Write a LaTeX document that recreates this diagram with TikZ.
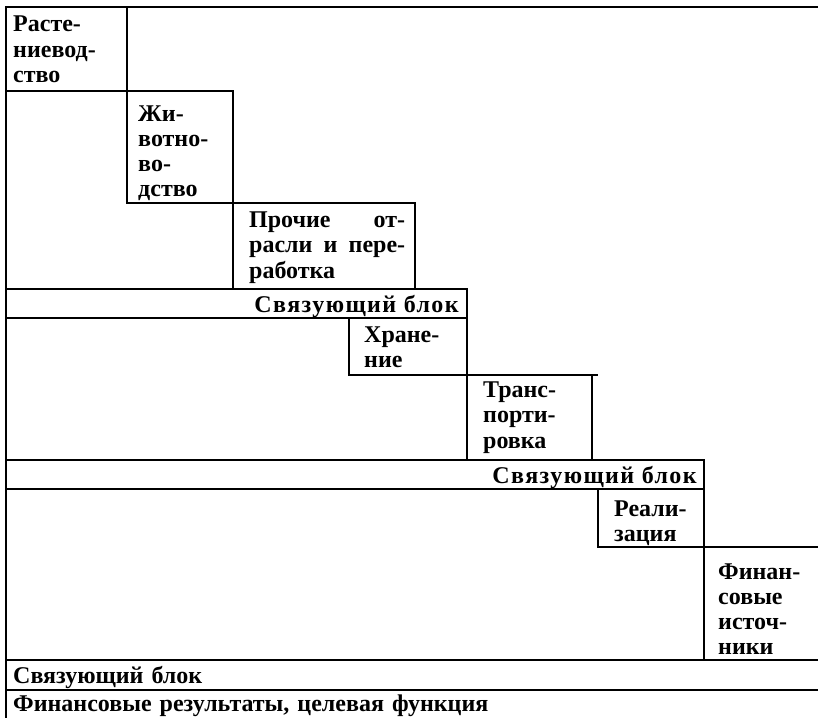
\documentclass[tikz,border=0pt]{standalone}
\usepackage{fontspec}
\setmainfont{Liberation Serif}[BoldFont={Liberation Serif Bold}]
\begin{document}
\begin{tikzpicture}[x=1pt,y=-1pt,
  rule/.style={line width=1.8pt, line cap=rect},
  cell/.style={anchor=base west, inner sep=0pt, align=left,
    font=\fontsize{24}{25.5}\selectfont\bfseries},
  tightcell/.style={cell, font=\fontsize{24}{25}\selectfont\bfseries},
  rcell/.style={anchor=base east, inner sep=0pt,
    font=\fontsize{24}{25}\selectfont\bfseries\addfontfeatures{LetterSpace=6}}]
\useasboundingbox (0,0) rectangle (818,717);
% frame
\draw[rule] (818,7) -- (6,7) -- (6,717);
% A
\draw[rule] (127,7) -- (127,203);
\draw[rule] (6,91) -- (233,91);
% B / C
\draw[rule] (233,91) -- (233,289);
\draw[rule] (127,203) -- (415,203);
\draw[rule] (415,203) -- (415,289);
% S1
\draw[rule] (6,289) -- (467,289);
\draw[rule] (6,318) -- (467,318);
\draw[rule] (467,289) -- (467,460);
% D / E
\draw[rule] (349,318) -- (349,375);
\draw[rule] (349,375) -- (597,375);
\draw[rule] (592,375) -- (592,460);
% S2
\draw[rule] (6,460) -- (704,460);
\draw[rule] (6,489) -- (704,489);
\draw[rule] (704,460) -- (704,660);
% F / G
\draw[rule] (598,489) -- (598,547);
\draw[rule] (598,547) -- (818,547);
% S3 / last
\draw[rule] (6,660) -- (818,660);
\draw[rule] (6,690) -- (818,690);
% texts
\node[cell, text width=110] (rast) at (13,32) {Расте-\\ниевод-\\ство};
\node[tightcell, text width=95] (zhiv) at (138,121) {Жи-\\вотно-\\во-\\дство};
\node[cell, text width=156] (proch) at (249,227) {Прочие\hfill от-\\расли\hfill и\hfill пере-\\работка};
\node[rcell] (sv1) at (459,312) {Связующий блок};
\node[tightcell, text width=100] (hran) at (364,342) {Хране-\\ние};
\node[cell, text width=110] (trans) at (483,397) {Транс-\\порти-\\ровка};
\node[rcell] (sv2) at (697,483) {Связующий блок};
\node[tightcell, text width=90] (real) at (614,516) {Реали-\\зация};
\node[tightcell, text width=100] (fin) at (718,579) {Финан-\\совые\\источ-\\ники};
\node[cell, text width=700] (sv3) at (13,683) {Связующий блок};
\node[cell, text width=800] (res) at (13,711) {Финансовые результаты, целевая функция};
\end{tikzpicture}
\end{document}
